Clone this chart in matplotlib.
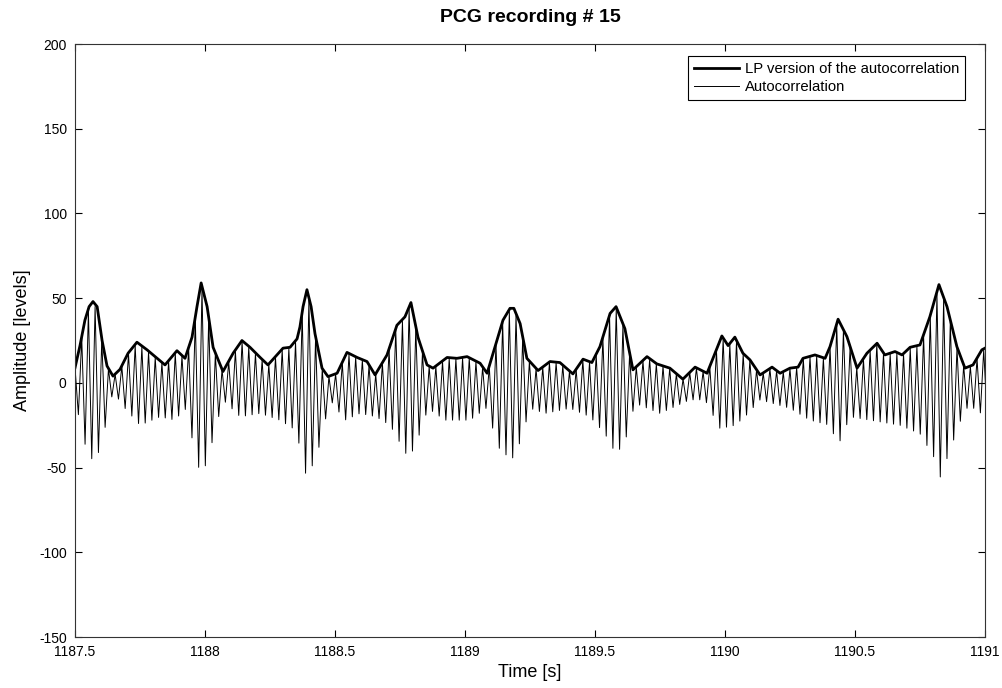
import matplotlib.pyplot as plt
import numpy as np

plt.rcParams['font.family'] = ['Liberation Sans', 'DejaVu Sans']
plt.rcParams['axes.unicode_minus'] = False

# LP version of the autocorrelation (envelope)
lp_t = [1187.500, 1187.519, 1187.538, 1187.554, 1187.569, 1187.585, 1187.604, 1187.623,
        1187.646, 1187.673, 1187.704, 1187.738, 1187.777, 1187.808, 1187.846, 1187.892,
        1187.923, 1187.950, 1187.969, 1187.985, 1188.008, 1188.031, 1188.069, 1188.108,
        1188.142, 1188.173, 1188.212, 1188.242, 1188.300, 1188.327, 1188.354, 1188.365,
        1188.377, 1188.392, 1188.408, 1188.423, 1188.450, 1188.473, 1188.508, 1188.546,
        1188.585, 1188.623, 1188.654, 1188.700, 1188.738, 1188.769, 1188.792, 1188.819,
        1188.854, 1188.877, 1188.931, 1188.969, 1189.008, 1189.058, 1189.085, 1189.146,
        1189.173, 1189.188, 1189.212, 1189.238, 1189.281, 1189.327, 1189.365, 1189.415,
        1189.454, 1189.488, 1189.519, 1189.558, 1189.581, 1189.615, 1189.646, 1189.700,
        1189.738, 1189.788, 1189.838, 1189.885, 1189.931, 1189.988, 1190.012, 1190.038,
        1190.069, 1190.096, 1190.135, 1190.181, 1190.212, 1190.250, 1190.281, 1190.300,
        1190.346, 1190.385, 1190.404, 1190.435, 1190.469, 1190.508, 1190.546, 1190.585,
        1190.615, 1190.654, 1190.681, 1190.712, 1190.750, 1190.788, 1190.823, 1190.854,
        1190.892, 1190.923, 1190.954, 1190.988, 1191.000]
lp_v = [9, 22, 37, 45, 48, 45, 25, 10,
        4, 8, 17.5, 24, 19.5, 15.5, 10.6, 19,
        14.5, 27, 45, 59, 45, 21, 6.7, 17.5,
        25, 21, 15, 10.6, 20.5, 21, 26, 33,
        45, 55, 45, 29, 8.7, 3.7, 5.7, 18,
        15, 12.6, 4.7, 16.5, 34, 39, 47.4, 27,
        10.6, 8.7, 15, 14.5, 15.5, 11.6, 5.7, 37,
        44, 44, 35, 14.5, 7.3, 12.6, 12, 5.3,
        14, 12, 21.4, 41, 45, 32, 7.7, 15.5,
        11.2, 8.7, 2.2, 9.3, 5.7, 27.7, 22, 27,
        17.5, 13.6, 4.7, 9.3, 5.7, 8.7, 9.3, 14.5,
        16.5, 14.5, 21.4, 37.6, 27.3, 8.7, 17.5, 23.4,
        16.5, 18.5, 16.5, 21, 22.4, 39, 58, 45,
        21.4, 8.7, 10.6, 19.5, 20.5]

# lowest swings of the autocorrelation
low_t = [1187.500, 1187.550, 1187.569, 1187.596, 1187.646, 1187.692, 1187.750, 1187.827,
         1187.885, 1187.923, 1187.969, 1187.985, 1188.019, 1188.069, 1188.135, 1188.212,
         1188.288, 1188.350, 1188.392, 1188.435, 1188.481, 1188.538, 1188.596, 1188.658,
         1188.712, 1188.781, 1188.808, 1188.858, 1188.923, 1189.019, 1189.081, 1189.135,
         1189.181, 1189.212, 1189.250, 1189.308, 1189.404, 1189.481, 1189.538, 1189.581,
         1189.615, 1189.654, 1189.750, 1189.865, 1189.923, 1189.981, 1190.038, 1190.077,
         1190.135, 1190.250, 1190.327, 1190.404, 1190.435, 1190.481, 1190.558, 1190.673,
         1190.750, 1190.808, 1190.827, 1190.865, 1190.923, 1190.962, 1191.000]
low_v = [-10, -44, -45, -40, -5, -15, -25, -20,
         -22, -15, -45, -57, -40, -10, -20, -18,
         -22, -28, -57, -40, -10, -22, -18, -20,
         -25, -44, -38, -15, -22, -22, -15, -40,
         -45, -35, -15, -18, -15, -20, -30, -42,
         -35, -12, -18, -10, -10, -27, -25, -20,
         -10, -15, -22, -25, -37, -20, -22, -25,
         -30, -45, -56, -40, -15, -15, -20]

period = 0.0257  # spacing of the oscillation swings

# autocorrelation: alternate upper / lower swings
t_up = np.arange(1187.5, 1191.0, period)
t_dn = t_up + period / 2
ac_t = np.ravel(np.column_stack([t_up, t_dn]))
ac_v = np.ravel(np.column_stack([np.interp(t_up, lp_t, lp_v) * 0.97,
                                 np.interp(t_dn, low_t, low_v)]))

fig = plt.figure(figsize=(10.02, 6.88), dpi=100)
ax = fig.add_axes([0.0749, 0.0741, 0.9081, 0.8619])

ax.plot(lp_t, lp_v, color='black', linewidth=2.0, label='LP version of the autocorrelation')
ax.plot(ac_t, ac_v, color='black', linewidth=0.7, label='Autocorrelation')

ax.set_xlim(1187.5, 1191)
ax.set_ylim(-150, 200)
ax.set_xticks(np.arange(1187.5, 1191.01, 0.5))
ax.set_xticklabels(['1187.5', '1188', '1188.5', '1189', '1189.5', '1190', '1190.5', '1191'])
ax.set_yticks(np.arange(-150, 201, 50))
ax.tick_params(direction='in', top=True, right=True, length=5, labelsize=10)
ax.tick_params(axis='y', pad=6)
ax.tick_params(axis='x', pad=6)
for s in ax.spines.values():
    s.set_color('#333333')

ax.set_title('PCG recording # 15', fontsize=14, fontweight='bold', pad=16)
ax.set_xlabel('Time [s]', fontsize=13, labelpad=3)
ax.set_ylabel('Amplitude [levels]', fontsize=13, labelpad=6)

leg = ax.legend(loc='upper right', bbox_to_anchor=(0.978, 0.980), borderaxespad=0,
                fontsize=10.7, fancybox=False, framealpha=1,
                handlelength=3.0, handletextpad=0.4, borderpad=0.4, labelspacing=0.3)
leg.get_frame().set_edgecolor('black')
leg.get_frame().set_linewidth(0.8)

fig.savefig('out.png', dpi=100)
